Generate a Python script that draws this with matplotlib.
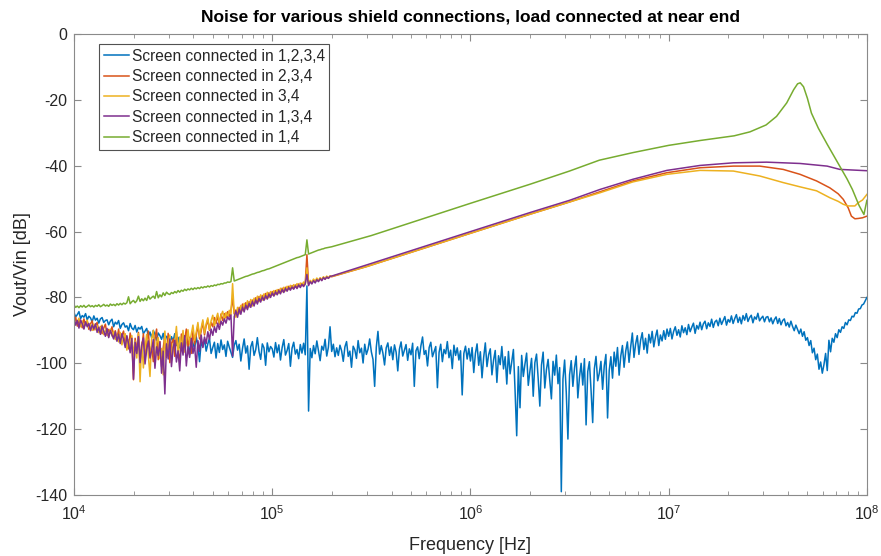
import numpy as np
import matplotlib
matplotlib.use("Agg")
import matplotlib.pyplot as plt
from matplotlib.ticker import LogLocator, NullFormatter, MultipleLocator

plt.rcParams['font.family'] = ['Liberation Sans', 'DejaVu Sans']
plt.rcParams['axes.unicode_minus'] = False

# ---------------- data ----------------
labels = ["Screen connected in 1,2,3,4", "Screen connected in 2,3,4",
          "Screen connected in 3,4", "Screen connected in 1,3,4",
          "Screen connected in 1,4"]
colors = ["#0072BD", "#D95319", "#EDB120", "#7E2F8E", "#77AC30"]

# Screen connected in 1,2,3,4 : sweep 1e4..1e8, 120 points / decade
blue_db = [
    # 1e4 .. 3.2e4
    -84.6, -85.9, -85.2, -84.3, -86.4, -85.5, -86.0, -84.9, -86.8, -85.7, -86.2, -87.4, -85.6, -86.9, -86.3, -87.8, -86.5, -86.1, -87.6, -87.0,
    -86.8, -88.3, -87.2, -86.6, -88.9, -87.5, -88.1, -87.0, -89.4, -88.2, -87.7, -89.0, -88.6, -90.1, -87.9, -89.3, -89.8, -88.5, -90.5, -89.1,
    -89.6, -88.8, -91.0, -90.2, -89.4, -91.7, -90.5, -92.3, -90.0, -91.2, -93.0, -90.8, -91.6, -92.7, -90.9, -93.5, -91.8, -92.4, -94.1, -91.9,
    # 3.2e4 .. 1e5
    -93.2, -91.0, -94.6, -92.1, -95.3, -93.0, -91.7, -96.2, -92.8, -94.0, -97.4, -92.5, -93.9, -95.6, -91.9, -94.8, -99.5, -93.4, -95.0, -92.7,
    -96.3, -94.1, -92.4, -97.0, -95.2, -93.6, -98.4, -94.0, -96.7, -92.9, -95.8, -94.4, -97.9, -93.3, -95.1, -96.6, -98.2, -94.5, -93.1, -96.0,
    -94.2, -99.3, -95.5, -92.6, -96.9, -94.7, -101.8, -95.0, -93.4, -97.6, -95.9, -92.2, -96.4, -98.8, -94.1, -95.3, -100.6, -93.8, -96.5, -94.9,
    # 1e5 .. 2.1e5
    -95.6, -98.1, -93.7, -96.8, -94.4, -99.0, -95.2, -92.8, -97.5, -96.1, -94.0, -100.9, -95.4, -93.6, -97.2, -95.8, -98.6, -94.3, -96.9, -93.9,
    -97.4, -76.5, -114.5, -95.5, -98.3, -94.6, -97.1, -93.2, -96.3, -99.2, -94.8, -96.0, -92.7, -97.8, -95.1, -88.9, -96.4, -94.2, -98.0, -95.3,
    # 2.1e5 .. 1e6
    -97.6, -94.5, -96.2, -99.4, -95.0, -93.4, -97.9, -96.3, -101.2, -94.8, -95.9, -98.5, -93.1, -96.8, -95.4, -99.9, -94.2, -97.3, -95.7, -92.6,
    -96.5, -98.8, -107.0, -95.1, -90.3, -97.2, -94.6, -96.9, -100.5, -95.3, -93.8, -97.6, -95.0, -98.9, -94.4, -96.6, -102.3, -95.7, -93.5, -97.8,
    -96.0, -94.3, -99.1, -95.6, -97.4, -93.9, -107.0, -96.2, -95.0, -98.6, -94.7, -92.0, -97.3, -96.1, -100.8, -95.2, -93.6, -98.0, -96.4, -94.9,
    -107.4, -96.7, -94.2, -99.5, -95.8, -97.1, -93.4, -98.3, -96.0, -101.6, -94.5, -97.6, -95.3, -99.0, -96.2, -109.6, -97.0, -94.8, -98.7, -95.5,
    # 1e6 .. 3.2e6
    -99.3, -95.2, -102.8, -97.0, -94.1, -100.6, -96.5, -104.4, -98.2, -93.8, -101.0, -97.4, -95.6, -103.5, -99.0, -96.1, -105.8, -97.7, -100.4, -94.9,
    -101.7, -98.0, -106.3, -96.4, -103.2, -99.6, -95.8, -108.2, -122.0, -101.0, -113.5, -97.6, -104.0, -100.2, -96.9, -106.7, -102.4, -98.5, -110.0, -99.8,
    -97.2, -104.6, -113.0, -100.5, -96.6, -107.5, -101.9, -98.8, -105.1, -110.8, -99.4, -103.6, -97.5, -106.2, -101.3, -139.0, -104.8, -99.0, -108.8, -123.0,
    # 3.2e6 .. 1e7
    -103.5, -99.2, -107.0, -101.4, -97.8, -110.5, -104.2, -100.0, -106.6, -98.6, -118.7, -102.5, -99.5, -108.1, -118.0, -101.7, -97.9, -105.3, -103.0, -99.4,
    -107.9, -100.8, -97.3, -116.6, -102.2, -98.0, -104.5, -96.6, -100.9, -95.2, -103.6, -97.8, -94.6, -101.2, -96.3, -93.5, -99.7, -95.0, -90.8, -98.2,
    -94.1, -91.6, -97.3, -93.0, -90.7, -95.8, -92.4, -96.9, -91.2, -93.8, -90.3, -95.0, -92.0, -89.9, -94.6, -91.4, -93.2, -90.1, -92.7, -89.6,
    # 1e7 .. 3.2e7
    -91.8, -89.4, -92.6, -90.3, -88.9, -91.5, -89.8, -92.0, -88.6, -90.7, -89.2, -91.3, -88.2, -90.4, -89.0, -87.8, -90.9, -88.5, -89.6, -87.5,
    -89.8, -88.0, -87.2, -89.5, -87.7, -88.8, -86.6, -89.1, -87.4, -86.9, -88.6, -86.3, -88.2, -87.0, -85.8, -88.4, -86.7, -87.5, -85.6, -87.9,
    -86.4, -85.2, -87.6, -86.0, -88.0, -85.5, -86.9, -84.9, -87.3, -86.1, -85.4, -87.7, -85.9, -86.6, -84.8, -87.1, -86.3, -85.7, -87.4, -86.0,
    # 3.2e7 .. 1e8
    -85.8, -87.4, -86.2, -88.0, -86.7, -85.9, -87.9, -86.4, -88.3, -87.0, -86.5, -88.6, -87.6, -89.0, -87.2, -88.8, -90.1, -88.4, -89.7, -91.0,
    -89.6, -91.8, -90.4, -93.0, -92.2, -94.6, -93.1, -96.8, -95.4, -98.9, -97.2, -101.8, -99.6, -103.0, -100.4, -97.0, -102.2, -93.0, -96.5, -92.4,
    -93.6, -91.0, -92.2, -89.8, -90.6, -88.9, -89.4, -87.6, -88.3, -86.8, -87.0, -85.7, -85.9, -84.6, -84.8, -83.5, -83.4, -82.3, -82.0, -81.0, -80.0,
]

# low-frequency (noisy) part of the other sweeps: first 157 points (1e4 .. 2e5)
purple_low = [
    -86.2, -88.4, -87.0, -89.3, -86.8, -88.0, -89.6, -87.4, -88.9, -87.9, -90.1, -88.3,
    -89.5, -88.0, -90.6, -89.1, -91.2, -88.7, -90.3, -91.8, -89.4, -92.2, -90.0, -91.4,
    -92.6, -90.4, -93.3, -91.2, -94.0, -91.0, -92.8, -95.2, -91.6, -93.9, -96.8, -92.4,
    -104.8, -93.6, -97.0, -91.9, -99.8, -94.5, -92.3, -100.2, -95.8, -93.2, -98.4, -96.0,
    -92.8, -101.5, -95.0, -97.6, -93.5, -103.0, -96.3, -109.3, -94.1, -98.7, -92.6, -101.0,
    -95.4, -93.0, -99.6, -96.2, -102.3, -93.8, -97.5, -91.6, -100.8, -95.0, -98.2, -92.4,
    -97.0, -94.6, -101.2, -93.1, -96.4, -91.4, -95.2, -92.0, -94.0, -90.4, -92.8, -89.6,
    -91.5, -88.9, -90.6, -87.8, -89.7, -87.2, -88.4, -86.5, -87.8, -85.9, -86.8, -85.3,
    -97.8, -85.8, -84.1, -86.0, -83.5, -85.1, -82.9, -84.4, -82.3, -83.7, -81.8, -83.0,
    -81.2, -82.6, -80.7, -82.0, -80.3, -81.4, -79.8, -80.9, -79.4, -80.5, -79.0, -80.0,
    -78.6, -79.6, -78.3, -79.2, -77.9, -78.9, -77.6, -78.5, -77.3, -78.1, -77.0, -77.8,
    -76.8, -77.5, -76.5, -77.3, -76.2, -77.0, -76.0, -76.7, -75.8, -73.0, -76.4, -75.2,
    -75.9, -74.9, -75.6, -74.6, -75.2, -74.3, -74.9, -74.0, -74.5, -73.8, -74.2, -73.6, -73.5,
]
orange_low = [
    -87.6, -86.0, -88.7, -86.9, -87.8, -89.2, -86.5, -88.4, -87.3, -89.7, -88.0, -87.1,
    -89.9, -88.4, -87.6, -90.4, -88.8, -91.0, -89.3, -88.1, -91.5, -89.7, -90.6, -88.9,
    -91.9, -90.1, -92.7, -89.6, -93.4, -91.5, -90.2, -94.1, -92.0, -95.6, -90.8, -93.3,
    -105.0, -92.4, -96.4, -90.6, -97.8, -95.5, -91.0, -98.8, -93.6, -90.2, -97.4, -94.8,
    -99.5, -92.2, -89.6, -98.9, -93.4, -101.0, -95.3, -91.7, -98.2, -90.9, -99.8, -94.0,
    -92.6, -97.9, -90.4, -96.5, -99.6, -91.1, -96.2, -93.0, -89.6, -95.0, -92.1, -97.0,
    -90.3, -94.2, -91.5, -88.4, -92.6, -90.2, -87.4, -91.4, -88.6, -86.8, -90.0, -87.6,
    -88.9, -86.1, -87.9, -85.6, -88.1, -85.0, -87.0, -84.9, -86.2, -84.3, -85.8, -84.0,
    -80.2, -85.0, -83.8, -84.6, -83.0, -84.0, -82.0, -83.4, -81.6, -82.8, -81.3, -82.2,
    -80.8, -81.8, -80.1, -81.3, -79.7, -80.9, -79.4, -80.3, -78.8, -79.9, -78.6, -79.4,
    -78.2, -79.2, -77.9, -78.7, -77.6, -78.3, -77.2, -78.0, -76.9, -77.6, -76.6, -77.4,
    -76.4, -77.1, -76.2, -76.9, -75.9, -76.6, -75.7, -76.4, -75.5, -67.0, -75.9, -75.1,
    -75.6, -74.7, -75.3, -74.4, -75.0, -74.2, -74.7, -73.9, -74.4, -73.7, -74.1, -73.6, -73.7,
]
yellow_low = [
    -86.5, -88.2, -87.4, -86.3, -88.9, -87.1, -89.4, -87.8, -86.9, -89.0, -88.3, -90.0,
    -88.1, -89.8, -88.6, -90.7, -89.2, -88.4, -91.3, -89.9, -90.5, -92.0, -89.6, -91.7,
    -90.3, -92.8, -91.4, -93.5, -90.6, -94.4, -92.2, -91.0, -96.0, -92.9, -94.8, -91.6,
    -97.5, -93.2, -98.4, -91.0, -105.6, -93.6, -101.4, -95.0, -91.2, -97.8, -104.0, -92.4,
    -90.0, -100.4, -93.8, -92.2, -98.6, -95.5, -103.5, -90.2, -97.0, -93.9, -91.4, -99.2,
    -94.1, -93.6, -88.8, -97.5, -92.0, -95.3, -90.0, -96.6, -93.2, -89.8, -94.0, -91.1,
    -88.4, -93.0, -90.5, -87.6, -91.9, -89.2, -86.8, -90.8, -88.0, -86.2, -89.8, -87.1,
    -85.4, -88.8, -86.4, -84.8, -87.8, -85.5, -84.2, -86.9, -84.6, -85.9, -83.9, -85.3,
    -75.8, -84.8, -86.0, -83.0, -85.0, -82.4, -84.0, -81.8, -83.4, -81.0, -82.9, -80.6,
    -82.6, -80.2, -81.7, -79.6, -81.3, -79.2, -80.8, -78.9, -80.4, -78.4, -80.1, -78.2,
    -79.3, -77.9, -79.1, -77.6, -78.8, -77.2, -78.3, -76.9, -78.0, -76.6, -77.6, -76.3,
    -77.3, -76.1, -76.9, -75.8, -76.7, -75.6, -76.4, -75.3, -76.1, -71.0, -75.9, -74.8,
    -75.4, -74.4, -75.1, -74.1, -74.8, -74.0, -74.5, -73.7, -74.3, -73.5, -74.1, -73.4, -73.6,
]
green_low = [
    -82.3, -83.0, -82.6, -83.1, -82.5, -82.9, -82.4, -83.0, -82.7, -82.3, -82.8, -82.5,
    -82.9, -82.4, -82.7, -82.2, -82.8, -82.5, -82.1, -82.6, -82.3, -82.7, -82.0, -82.4,
    -82.1, -82.5, -81.9, -82.3, -81.8, -82.2, -81.7, -82.0, -81.6, -79.8, -81.9, -81.3,
    -80.9, -81.6, -81.0, -79.6, -81.2, -80.4, -81.0, -80.2, -80.9, -79.5, -80.5, -80.0,
    -79.6, -80.3, -78.2, -80.1, -79.2, -79.8, -78.6, -79.4, -78.4, -78.9, -79.1, -78.5,
    -78.8, -78.2, -78.6, -77.9, -78.4, -77.8, -78.1, -77.5, -77.9, -77.4, -77.7, -77.2,
    -77.6, -77.1, -77.4, -77.0, -77.3, -76.8, -77.1, -76.7, -76.9, -76.5, -76.8, -76.4,
    -76.6, -76.2, -76.4, -76.0, -76.1, -75.8, -75.9, -75.6, -75.6, -75.3, -75.4, -75.2,
    -71.0, -75.0, -74.8, -74.6, -74.4, -74.2, -74.0, -73.8, -73.6, -73.5, -73.3, -73.1,
    -72.9, -72.8, -72.6, -72.4, -72.3, -72.1, -71.9, -71.8, -71.6, -71.4, -71.3, -71.1,
    -70.9, -70.7, -70.5, -70.3, -70.1, -69.9, -69.7, -69.5, -69.3, -69.1, -68.9, -68.7,
    -68.5, -68.3, -68.1, -67.9, -67.8, -67.6, -67.4, -67.2, -67.0, -62.5, -66.8, -66.6,
    -66.4, -66.2, -66.0, -65.8, -65.6, -65.5, -65.3, -65.2, -65.0, -64.9, -64.8, -64.7, -64.6,
]

# high-frequency (smooth) part, frequencies in Hz
f_high_pur = [3.0e5, 5.0e5, 1.0e6, 2.0e6, 3.16e6, 4.5e6, 6.6e6, 9.8e6, 1.44e7,
              2.12e7, 3.12e7, 4.6e7, 6.3e7, 7.3e7, 1.0e8]
purple_high = [-70.1, -65.8, -60.0, -54.2, -50.5, -47.2, -44.1, -41.4, -39.9,
               -39.1, -38.9, -39.3, -40.1, -41.1, -41.5]
f_high_oy = [3.0e5, 5.0e5, 1.0e6, 2.0e6, 3.16e6, 4.5e6, 6.6e6, 9.8e6, 1.44e7,
             2.12e7, 2.88e7, 3.78e7, 4.6e7, 5.57e7, 6.5e7, 7.16e7, 7.6e7, 8.05e7,
             8.35e7, 8.7e7, 9.05e7, 9.5e7, 1.0e8]
orange_high = [-70.6, -66.3, -60.5, -54.7, -51.0, -47.9, -44.6, -42.1, -40.6,
               -40.1, -40.1, -41.1, -42.6, -44.6, -46.7, -48.5, -50.2, -52.8,
               -55.3, -56.1, -56.0, -55.8, -55.3]
yellow_high = [-70.6, -66.3, -60.5, -54.7, -51.0, -48.2, -44.9, -42.6, -41.4,
               -41.6, -43.1, -45.1, -46.4, -47.6, -49.7, -50.8, -51.7, -52.2,
               -52.2, -52.2, -51.2, -50.4, -48.7]
f_high_grn = [3.16e5, 5.0e5, 1.0e6, 2.0e6, 3.16e6, 4.47e6, 6.6e6, 1.0e7, 1.45e7,
              2.14e7, 2.57e7, 3.1e7, 3.5e7, 3.94e7, 4.27e7, 4.47e7, 4.61e7, 4.79e7,
              5.01e7, 5.25e7, 5.69e7, 6.31e7, 6.95e7, 7.94e7, 8.45e7, 9.12e7,
              9.66e7, 1.0e8]
green_high = [-61.2, -57.3, -51.4, -45.6, -41.6, -38.3, -36.0, -33.8, -32.3,
              -30.9, -29.7, -27.6, -25.0, -20.9, -16.9, -15.1, -14.8, -16.0,
              -19.5, -24.0, -28.6, -33.5, -37.9, -44.0, -47.2, -52.0, -54.8, -50.5]

# ---------------- plot ----------------
f_sweep = np.logspace(4, 8, 481)          # 120 points per decade
f_blue = np.logspace(4, 8, len(blue_db))

fig = plt.figure(figsize=(8.81, 5.56), dpi=100)
ax = fig.add_axes([0.084, 0.1097, 0.9, 0.829])

lw = 1.1
def series(low, f_high, high):
    return np.concatenate([f_sweep[:len(low)], f_high]), list(low) + list(high)

ax.plot(f_blue, blue_db, color=colors[0], lw=lw, label=labels[0])
x, y = series(orange_low, f_high_oy, orange_high)
ax.plot(x, y, color=colors[1], lw=lw, label=labels[1])
x, y = series(yellow_low, f_high_oy, yellow_high)
ax.plot(x, y, color=colors[2], lw=lw, label=labels[2])
x, y = series(purple_low, f_high_pur, purple_high)
ax.plot(x, y, color=colors[3], lw=lw, label=labels[3])
x, y = series(green_low, f_high_grn, green_high)
ax.plot(x, y, color=colors[4], lw=lw, label=labels[4])

ax.set_xscale('log')
ax.set_xlim(1e4, 1e8)
ax.set_ylim(-140, 0)
ax.yaxis.set_major_locator(MultipleLocator(20))
ax.xaxis.set_major_locator(LogLocator(base=10, numticks=10))
ax.xaxis.set_minor_locator(LogLocator(base=10, subs=np.arange(2, 10), numticks=20))
ax.xaxis.set_minor_formatter(NullFormatter())

axc = '#262626'
for s in ax.spines.values():
    s.set_color('#8a8a8a')
    s.set_linewidth(0.8)
ax.tick_params(which='both', direction='in', top=True, right=True,
               colors='#8a8a8a', labelcolor=axc, labelsize=11.5)
ax.tick_params(which='major', length=5, width=0.8)
ax.tick_params(which='minor', length=3, width=0.6)
ax.tick_params(axis='x', which='major', pad=7)
ax.tick_params(axis='y', which='major', pad=5)

ax.set_xlabel('Frequency [Hz]', fontsize=13, color=axc, labelpad=10)
ax.set_ylabel('Vout/Vin [dB]', fontsize=13, color=axc, labelpad=3)
ax.set_title('Noise for various shield connections, load connected at near end',
             fontsize=12.5, fontweight='bold', color='black', pad=9)

leg = ax.legend(loc='upper left', bbox_to_anchor=(0.0315, 0.978), fontsize=11.2,
                frameon=True, fancybox=False, handlelength=1.65, handletextpad=0.15,
                labelspacing=0.34, borderpad=0.3, borderaxespad=0.0)
leg.get_frame().set_edgecolor('#262626')
leg.get_frame().set_linewidth(0.8)
for t in leg.get_texts():
    t.set_color(axc)

fig.savefig('out.png', dpi=100)
